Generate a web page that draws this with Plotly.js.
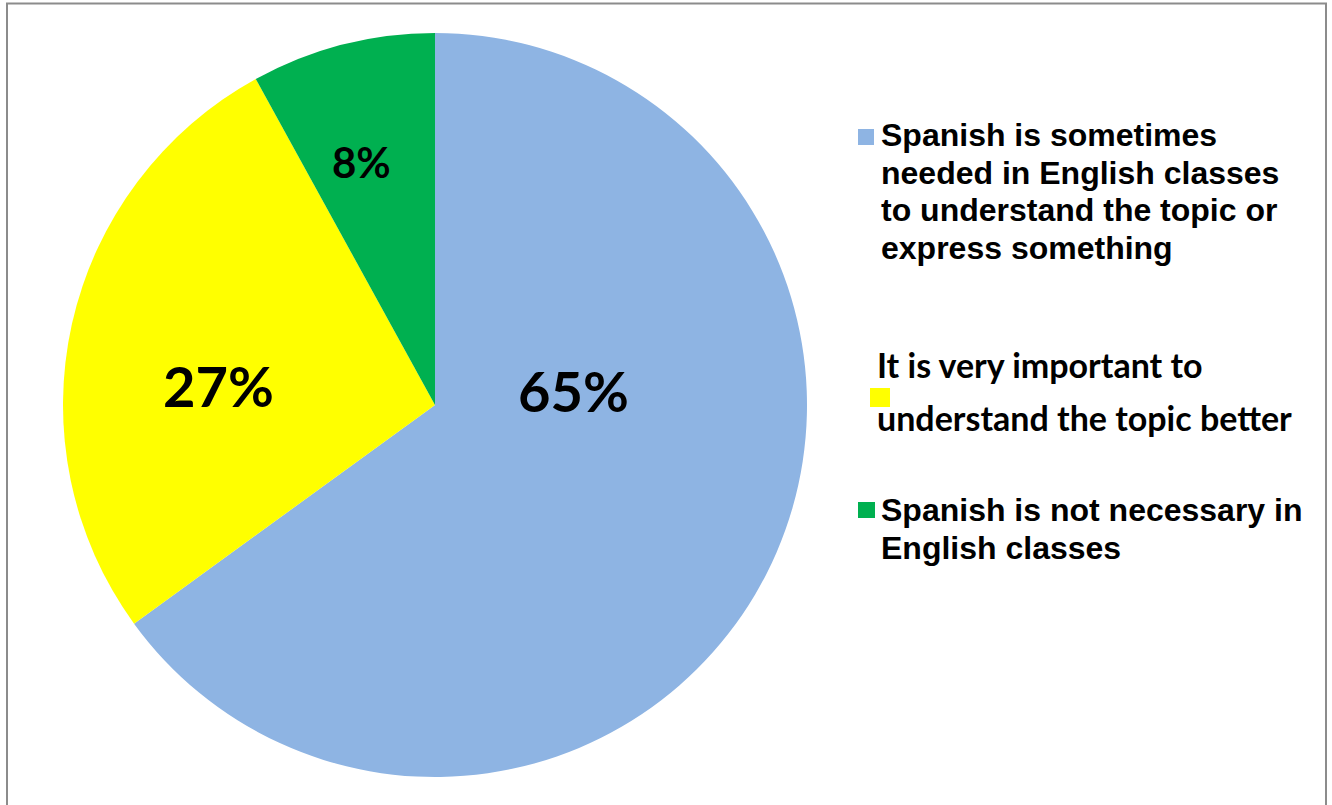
<!DOCTYPE html>
<html><head><meta charset="utf-8">
<script src="https://cdn.plot.ly/plotly-3.0.1.min.js"></script>
<style>html,body{margin:0;padding:0;background:#fff;overflow:hidden}</style>
</head><body>
<div id="chart" style="width:1332px;height:805px"></div>
<script>
// ---- data ----
const categories = [
  "Spanish is sometimes needed in English classes to understand the topic or express something",
  "It is very important to understand the topic better",
  "Spanish is not necessary in English classes"
];
const legendText = [
  "Spanish is sometimes<br>needed in English classes<br>to understand the topic or<br>express something",
  "It is very important to<br>understand the topic better",
  "Spanish is not necessary in<br>English classes"
];
const values = [65, 27, 8];
const colors = ["#8EB4E3", "#FFFF00", "#00B050"];

// ---- layout helpers ----
const W = 1332, H = 805;
const px = x => x / W;
const py = y => 1 - y / H;
const total = values.reduce((a, b) => a + b, 0);
const pct = values.map(v => Math.round(v / total * 100) + "%");

const trace = {
  type: "pie",
  values: values,
  labels: categories,
  marker: { colors: colors, line: { width: 0 } },
  sort: false,
  direction: "clockwise",
  rotation: 0,
  textinfo: "none",
  hoverinfo: "label+percent",
  showlegend: false,
  domain: { x: [px(63), px(807)], y: [py(777), py(33)] }
};

// percent label placement (layout)
const labelPos = [[573, 390], [218, 386], [361, 162]];
const labelSize = [56, 56, 42];
const annotations = [];
values.forEach((v, i) => {
  annotations.push({
    xref: "paper", yref: "paper",
    x: px(labelPos[i][0]), y: py(labelPos[i][1]),
    xanchor: "center", yanchor: "middle",
    text: "<b>" + pct[i] + "</b>",
    showarrow: false,
    font: { family: "Lato, Open Sans, sans-serif", size: labelSize[i], color: "#000" }
  });
});

// legend (layout)
const legTextPos = [[879, 115], [875, 342], [879, 490]];
const legFamily = ["Liberation Sans, Arial, sans-serif", "Lato, Open Sans, sans-serif", "Liberation Sans, Arial, sans-serif"];
const legLineSize = [29, 41, 29];   // controls line spacing
const legGlyphSize = [32, 34, 32];  // actual glyph size
const legMarker = [[858, 129, 874, 145], [870, 388, 890, 407], [858, 502, 875, 518]];
const shapes = [];
legendText.forEach((t, i) => {
  const txt = "<b><span style='font-size:" + legGlyphSize[i] + "px'>" + t + "</span></b>";
  annotations.push({
    xref: "paper", yref: "paper",
    x: px(legTextPos[i][0]), y: py(legTextPos[i][1]),
    xanchor: "left", yanchor: "top", align: "left",
    text: txt, showarrow: false,
    font: { family: legFamily[i], size: legLineSize[i], color: "#000" }
  });
  const m = legMarker[i];
  shapes.push({
    type: "rect", xref: "paper", yref: "paper",
    x0: px(m[0]), x1: px(m[2]), y0: py(m[3]), y1: py(m[1]),
    fillcolor: colors[i], line: { width: 0 }
  });
});

// outer border
shapes.push({
  type: "rect", xref: "paper", yref: "paper",
  x0: px(7), x1: px(1326), y0: py(810), y1: py(3.5),
  fillcolor: "rgba(0,0,0,0)", line: { color: "#8c8c8c", width: 2 }
});

const layout = {
  width: W, height: H,
  margin: { l: 0, r: 0, t: 0, b: 0 },
  paper_bgcolor: "#fff",
  showlegend: false,
  annotations: annotations,
  shapes: shapes
};

Plotly.newPlot("chart", [trace], layout, { displayModeBar: false, staticPlot: true });
</script>
</body></html>
